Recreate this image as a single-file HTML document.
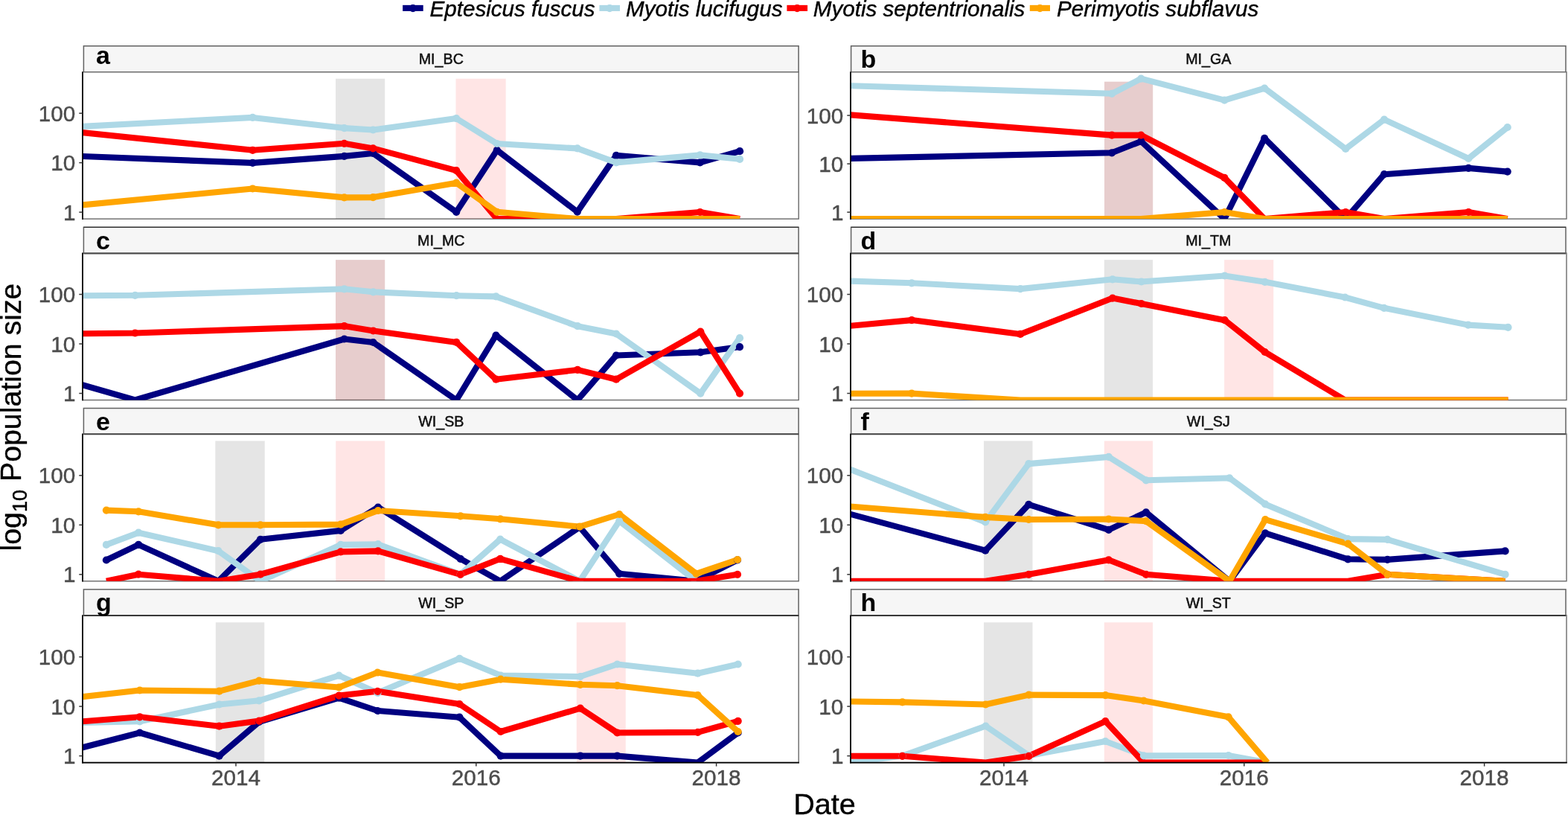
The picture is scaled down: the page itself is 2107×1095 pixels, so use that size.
<!DOCTYPE html>
<html><head><meta charset="utf-8"><title>Bat population</title><style>html,body{margin:0;padding:0;background:#fff;}svg{display:block;}</style></head><body>
<svg width="2107" height="1095" viewBox="0 0 2107 1095" font-family="'Liberation Sans', Arial, Helvetica, sans-serif">
<rect x="0" y="0" width="2107" height="1095" fill="#FFFFFF"/>
<line x1="541.1" y1="10.9" x2="568.7" y2="10.9" stroke="#000080" stroke-width="8.1"/>
<circle cx="554.9" cy="11.15" r="5.1" fill="#000080"/>
<text x="577.5" y="21.6" font-size="29.6" font-style="italic" fill="#000" stroke="#000" stroke-width="0.4">Eptesicus fuscus</text>
<line x1="805.4" y1="10.9" x2="833.0" y2="10.9" stroke="#ADD8E6" stroke-width="8.1"/>
<circle cx="819.2" cy="11.15" r="5.1" fill="#ADD8E6"/>
<text x="841.0" y="21.6" font-size="29.6" font-style="italic" fill="#000" stroke="#000" stroke-width="0.4">Myotis lucifugus</text>
<line x1="1057.4" y1="10.9" x2="1085.1" y2="10.9" stroke="#FF0000" stroke-width="8.1"/>
<circle cx="1071.2" cy="11.15" r="5.1" fill="#FF0000"/>
<text x="1092.8" y="21.6" font-size="29.6" font-style="italic" fill="#000" stroke="#000" stroke-width="0.4">Myotis septentrionalis</text>
<line x1="1383.8" y1="10.9" x2="1411.0" y2="10.9" stroke="#FFA500" stroke-width="8.1"/>
<circle cx="1397.4" cy="11.15" r="5.1" fill="#FFA500"/>
<text x="1420.0" y="21.6" font-size="29.6" font-style="italic" fill="#000" stroke="#000" stroke-width="0.4">Perimyotis subflavus</text>
<rect x="112.4" y="61.8" width="960.7" height="35.0" fill="#F6F6F6" stroke="#626262" stroke-width="1.5"/>
<rect x="111.0" y="96.8" width="962.2" height="197.3" fill="#FFFFFF" stroke="#6A6A6A" stroke-width="1.4"/>
<clipPath id="cp1"><rect x="111.0" y="96.8" width="962.2" height="197.3"/></clipPath>
<g clip-path="url(#cp1)">
<rect x="451.0" y="105.7" width="66.2" height="190.4" fill="rgba(0,0,0,0.1)"/>
<rect x="612.5" y="105.7" width="67.2" height="190.4" fill="rgba(255,0,0,0.1)"/>
<polyline points="81.0,208.9 339.5,218.9 462.6,209.9 501.3,206.0 613.2,284.8 667.8,201.8 775.8,284.6 828.0,208.9 940.7,218.4 994.1,203.2" fill="none" stroke="#000080" stroke-width="8.1" stroke-linejoin="round" stroke-linecap="butt"/>
<polyline points="81.0,171.4 339.5,157.9 462.6,172.1 501.3,174.5 613.2,159.1 667.8,193.0 775.8,199.4 828.0,218.4 940.7,208.4 994.1,213.8" fill="none" stroke="#ADD8E6" stroke-width="8.1" stroke-linejoin="round" stroke-linecap="butt"/>
<polyline points="81.0,175.0 339.5,201.8 462.6,192.8 501.3,199.4 613.2,229.1 667.8,294.1 775.8,294.1 828.0,294.1 940.7,285.0 994.1,294.1" fill="none" stroke="#FF0000" stroke-width="8.1" stroke-linejoin="round" stroke-linecap="butt"/>
<polyline points="81.0,278.3 339.5,253.5 462.6,265.4 501.3,265.1 613.2,245.7 667.8,284.8 775.8,294.1 828.0,294.1 940.7,294.1 994.1,294.1" fill="none" stroke="#FFA500" stroke-width="8.1" stroke-linejoin="round" stroke-linecap="butt"/>
<circle cx="339.5" cy="218.9" r="5.1" fill="#000080"/>
<circle cx="462.6" cy="209.9" r="5.1" fill="#000080"/>
<circle cx="501.3" cy="206.0" r="5.1" fill="#000080"/>
<circle cx="613.2" cy="284.8" r="5.1" fill="#000080"/>
<circle cx="667.8" cy="201.8" r="5.1" fill="#000080"/>
<circle cx="775.8" cy="284.6" r="5.1" fill="#000080"/>
<circle cx="828.0" cy="208.9" r="5.1" fill="#000080"/>
<circle cx="940.7" cy="218.4" r="5.1" fill="#000080"/>
<circle cx="994.1" cy="203.2" r="5.1" fill="#000080"/>
<circle cx="339.5" cy="157.9" r="5.1" fill="#ADD8E6"/>
<circle cx="462.6" cy="172.1" r="5.1" fill="#ADD8E6"/>
<circle cx="501.3" cy="174.5" r="5.1" fill="#ADD8E6"/>
<circle cx="613.2" cy="159.1" r="5.1" fill="#ADD8E6"/>
<circle cx="667.8" cy="193.0" r="5.1" fill="#ADD8E6"/>
<circle cx="775.8" cy="199.4" r="5.1" fill="#ADD8E6"/>
<circle cx="828.0" cy="218.4" r="5.1" fill="#ADD8E6"/>
<circle cx="940.7" cy="208.4" r="5.1" fill="#ADD8E6"/>
<circle cx="994.1" cy="213.8" r="5.1" fill="#ADD8E6"/>
<circle cx="339.5" cy="201.8" r="5.1" fill="#FF0000"/>
<circle cx="462.6" cy="192.8" r="5.1" fill="#FF0000"/>
<circle cx="501.3" cy="199.4" r="5.1" fill="#FF0000"/>
<circle cx="613.2" cy="229.1" r="5.1" fill="#FF0000"/>
<circle cx="940.7" cy="285.0" r="5.1" fill="#FF0000"/>
<circle cx="339.5" cy="253.5" r="5.1" fill="#FFA500"/>
<circle cx="462.6" cy="265.4" r="5.1" fill="#FFA500"/>
<circle cx="501.3" cy="265.1" r="5.1" fill="#FFA500"/>
<circle cx="613.2" cy="245.7" r="5.1" fill="#FFA500"/>
<circle cx="667.8" cy="284.8" r="5.1" fill="#FFA500"/>
</g>
<line x1="111.0" y1="96.5" x2="111.0" y2="294.90000000000003" stroke="#000" stroke-width="1.7"/>
<line x1="106.3" y1="285.1" x2="111.0" y2="285.1" stroke="#333333" stroke-width="1.5"/>
<text x="101.4" y="295.7" font-size="29.7" fill="#4D4D4D" stroke="#4D4D4D" stroke-width="0.45" text-anchor="end">1</text>
<line x1="106.3" y1="218.6" x2="111.0" y2="218.6" stroke="#333333" stroke-width="1.5"/>
<text x="101.4" y="229.2" font-size="29.7" fill="#4D4D4D" stroke="#4D4D4D" stroke-width="0.45" text-anchor="end">10</text>
<line x1="106.3" y1="152.2" x2="111.0" y2="152.2" stroke="#333333" stroke-width="1.5"/>
<text x="101.4" y="162.8" font-size="29.7" fill="#4D4D4D" stroke="#4D4D4D" stroke-width="0.45" text-anchor="end">100</text>
<text x="592.8" y="86.4" font-size="19.7" fill="#111111" stroke="#111111" stroke-width="0.5" text-anchor="middle">MI_BC</text>
<text x="129.0" y="86.4" font-size="34" font-weight="bold" fill="#000">a</text>
<rect x="1143.6" y="61.8" width="960.4" height="35.0" fill="#F6F6F6" stroke="#626262" stroke-width="1.5"/>
<rect x="1143.0" y="96.8" width="962.0" height="197.3" fill="#FFFFFF" stroke="#6A6A6A" stroke-width="1.4"/>
<clipPath id="cp2"><rect x="1143.0" y="96.8" width="962.0" height="197.3"/></clipPath>
<g clip-path="url(#cp2)">
<rect x="1484.0" y="109.7" width="65.2" height="186.4" fill="rgba(0,0,0,0.1)"/>
<rect x="1484.0" y="109.7" width="65.2" height="186.4" fill="rgba(255,0,0,0.1)"/>
<polyline points="1113.0,213.5 1494.1,205.3 1533.3,189.9 1645.4,294.1 1699.2,185.8 1808.2,294.1 1860.0,234.2 1973.3,225.9 2025.7,230.6" fill="none" stroke="#000080" stroke-width="8.1" stroke-linejoin="round" stroke-linecap="butt"/>
<polyline points="1113.0,114.3 1494.1,125.8 1533.3,105.7 1645.4,134.6 1699.2,118.6 1808.2,200.0 1860.0,160.6 1973.3,213.0 2025.7,171.0" fill="none" stroke="#ADD8E6" stroke-width="8.1" stroke-linejoin="round" stroke-linecap="butt"/>
<polyline points="1113.0,152.0 1494.1,181.6 1533.3,181.6 1645.4,238.9 1699.2,294.1 1808.2,285.0 1860.0,294.1 1973.3,285.0 2025.7,294.1" fill="none" stroke="#FF0000" stroke-width="8.1" stroke-linejoin="round" stroke-linecap="butt"/>
<polyline points="1113.0,294.1 1494.1,294.1 1533.3,294.1 1645.4,285.0 1699.2,294.1 1808.2,294.1 1860.0,294.1 1973.3,294.1 2025.7,294.1" fill="none" stroke="#FFA500" stroke-width="8.1" stroke-linejoin="round" stroke-linecap="butt"/>
<circle cx="1494.1" cy="205.3" r="5.1" fill="#000080"/>
<circle cx="1533.3" cy="189.9" r="5.1" fill="#000080"/>
<circle cx="1699.2" cy="185.8" r="5.1" fill="#000080"/>
<circle cx="1860.0" cy="234.2" r="5.1" fill="#000080"/>
<circle cx="1973.3" cy="225.9" r="5.1" fill="#000080"/>
<circle cx="2025.7" cy="230.6" r="5.1" fill="#000080"/>
<circle cx="1494.1" cy="125.8" r="5.1" fill="#ADD8E6"/>
<circle cx="1533.3" cy="105.7" r="5.1" fill="#ADD8E6"/>
<circle cx="1645.4" cy="134.6" r="5.1" fill="#ADD8E6"/>
<circle cx="1699.2" cy="118.6" r="5.1" fill="#ADD8E6"/>
<circle cx="1808.2" cy="200.0" r="5.1" fill="#ADD8E6"/>
<circle cx="1860.0" cy="160.6" r="5.1" fill="#ADD8E6"/>
<circle cx="1973.3" cy="213.0" r="5.1" fill="#ADD8E6"/>
<circle cx="2025.7" cy="171.0" r="5.1" fill="#ADD8E6"/>
<circle cx="1494.1" cy="181.6" r="5.1" fill="#FF0000"/>
<circle cx="1533.3" cy="181.6" r="5.1" fill="#FF0000"/>
<circle cx="1645.4" cy="238.9" r="5.1" fill="#FF0000"/>
<circle cx="1808.2" cy="285.0" r="5.1" fill="#FF0000"/>
<circle cx="1973.3" cy="285.0" r="5.1" fill="#FF0000"/>
<circle cx="1645.4" cy="285.0" r="5.1" fill="#FFA500"/>
</g>
<line x1="1143.0" y1="96.5" x2="1143.0" y2="294.90000000000003" stroke="#000" stroke-width="1.7"/>
<line x1="1138.3" y1="285.1" x2="1143.0" y2="285.1" stroke="#333333" stroke-width="1.5"/>
<text x="1133.4" y="295.7" font-size="29.7" fill="#4D4D4D" stroke="#4D4D4D" stroke-width="0.45" text-anchor="end">1</text>
<line x1="1138.3" y1="220.1" x2="1143.0" y2="220.1" stroke="#333333" stroke-width="1.5"/>
<text x="1133.4" y="230.7" font-size="29.7" fill="#4D4D4D" stroke="#4D4D4D" stroke-width="0.45" text-anchor="end">10</text>
<line x1="1138.3" y1="155.1" x2="1143.0" y2="155.1" stroke="#333333" stroke-width="1.5"/>
<text x="1133.4" y="165.7" font-size="29.7" fill="#4D4D4D" stroke="#4D4D4D" stroke-width="0.45" text-anchor="end">100</text>
<text x="1623.8" y="86.4" font-size="19.7" fill="#111111" stroke="#111111" stroke-width="0.5" text-anchor="middle">MI_GA</text>
<text x="1156.4" y="91.0" font-size="34" font-weight="bold" fill="#000">b</text>
<rect x="112.4" y="305.3" width="960.7" height="34.8" fill="#F6F6F6" stroke="#626262" stroke-width="1.5"/>
<rect x="111.0" y="340.1" width="962.2" height="197.4" fill="#FFFFFF" stroke="#6A6A6A" stroke-width="1.4"/>
<clipPath id="cp3"><rect x="111.0" y="340.1" width="962.2" height="197.4"/></clipPath>
<g clip-path="url(#cp3)">
<rect x="451.0" y="349.1" width="66.2" height="190.4" fill="rgba(0,0,0,0.1)"/>
<rect x="451.0" y="349.1" width="66.2" height="190.4" fill="rgba(255,0,0,0.1)"/>
<polyline points="81.0,508.6 181.5,537.5 462.6,455.5 501.5,460.0 613.3,537.5 666.5,450.5 776.1,537.5 828.0,477.5 941.3,473.3 994.0,466.1" fill="none" stroke="#000080" stroke-width="8.1" stroke-linejoin="round" stroke-linecap="butt"/>
<polyline points="81.0,397.5 181.5,396.8 462.6,388.3 501.5,392.3 613.3,397.2 666.5,398.4 776.1,438.2 828.0,448.5 941.3,528.6 994.0,454.2" fill="none" stroke="#ADD8E6" stroke-width="8.1" stroke-linejoin="round" stroke-linecap="butt"/>
<polyline points="81.0,448.6 181.5,447.5 462.6,438.1 501.5,444.5 613.3,459.9 666.5,509.7 776.1,496.9 828.0,509.7 941.3,445.6 994.0,528.6" fill="none" stroke="#FF0000" stroke-width="8.1" stroke-linejoin="round" stroke-linecap="butt"/>
<circle cx="462.6" cy="455.5" r="5.1" fill="#000080"/>
<circle cx="501.5" cy="460.0" r="5.1" fill="#000080"/>
<circle cx="666.5" cy="450.5" r="5.1" fill="#000080"/>
<circle cx="828.0" cy="477.5" r="5.1" fill="#000080"/>
<circle cx="941.3" cy="473.3" r="5.1" fill="#000080"/>
<circle cx="994.0" cy="466.1" r="5.1" fill="#000080"/>
<circle cx="181.5" cy="396.8" r="5.1" fill="#ADD8E6"/>
<circle cx="462.6" cy="388.3" r="5.1" fill="#ADD8E6"/>
<circle cx="501.5" cy="392.3" r="5.1" fill="#ADD8E6"/>
<circle cx="613.3" cy="397.2" r="5.1" fill="#ADD8E6"/>
<circle cx="666.5" cy="398.4" r="5.1" fill="#ADD8E6"/>
<circle cx="776.1" cy="438.2" r="5.1" fill="#ADD8E6"/>
<circle cx="828.0" cy="448.5" r="5.1" fill="#ADD8E6"/>
<circle cx="941.3" cy="528.6" r="5.1" fill="#ADD8E6"/>
<circle cx="994.0" cy="454.2" r="5.1" fill="#ADD8E6"/>
<circle cx="181.5" cy="447.5" r="5.1" fill="#FF0000"/>
<circle cx="462.6" cy="438.1" r="5.1" fill="#FF0000"/>
<circle cx="501.5" cy="444.5" r="5.1" fill="#FF0000"/>
<circle cx="613.3" cy="459.9" r="5.1" fill="#FF0000"/>
<circle cx="666.5" cy="509.7" r="5.1" fill="#FF0000"/>
<circle cx="776.1" cy="496.9" r="5.1" fill="#FF0000"/>
<circle cx="828.0" cy="509.7" r="5.1" fill="#FF0000"/>
<circle cx="941.3" cy="445.6" r="5.1" fill="#FF0000"/>
<circle cx="994.0" cy="528.6" r="5.1" fill="#FF0000"/>
</g>
<line x1="112.4" y1="305.4" x2="1073.1" y2="305.4" stroke="#303030" stroke-width="1.1"/>
<line x1="112.4" y1="340.7" x2="1073.1" y2="340.7" stroke="#4A4A4A" stroke-width="1.5"/>
<line x1="111.0" y1="339.8" x2="111.0" y2="538.3" stroke="#000" stroke-width="1.7"/>
<line x1="106.3" y1="528.5" x2="111.0" y2="528.5" stroke="#333333" stroke-width="1.5"/>
<text x="101.4" y="539.1" font-size="29.7" fill="#4D4D4D" stroke="#4D4D4D" stroke-width="0.45" text-anchor="end">1</text>
<line x1="106.3" y1="462.0" x2="111.0" y2="462.0" stroke="#333333" stroke-width="1.5"/>
<text x="101.4" y="472.6" font-size="29.7" fill="#4D4D4D" stroke="#4D4D4D" stroke-width="0.45" text-anchor="end">10</text>
<line x1="106.3" y1="395.5" x2="111.0" y2="395.5" stroke="#333333" stroke-width="1.5"/>
<text x="101.4" y="406.1" font-size="29.7" fill="#4D4D4D" stroke="#4D4D4D" stroke-width="0.45" text-anchor="end">100</text>
<text x="592.8" y="329.9" font-size="19.7" fill="#111111" stroke="#111111" stroke-width="0.5" text-anchor="middle">MI_MC</text>
<text x="129.0" y="334.5" font-size="34" font-weight="bold" fill="#000">c</text>
<rect x="1143.6" y="305.3" width="960.4" height="34.8" fill="#F6F6F6" stroke="#626262" stroke-width="1.5"/>
<rect x="1143.0" y="340.1" width="962.0" height="197.4" fill="#FFFFFF" stroke="#6A6A6A" stroke-width="1.4"/>
<clipPath id="cp4"><rect x="1143.0" y="340.1" width="962.0" height="197.4"/></clipPath>
<g clip-path="url(#cp4)">
<rect x="1483.8" y="349.1" width="65.3" height="190.4" fill="rgba(0,0,0,0.1)"/>
<rect x="1645.1" y="349.1" width="66.2" height="190.4" fill="rgba(255,0,0,0.1)"/>
<polyline points="1113.0,376.7 1225.1,380.3 1371.1,388.1 1495.0,375.3 1533.7,378.5 1645.7,370.5 1699.7,378.8 1807.4,399.5 1859.8,413.8 1972.8,436.6 2026.5,439.8" fill="none" stroke="#ADD8E6" stroke-width="8.1" stroke-linejoin="round" stroke-linecap="butt"/>
<polyline points="1113.0,440.5 1225.1,430.1 1371.1,448.9 1495.0,400.6 1533.7,408.0 1645.7,430.2 1699.7,473.0 1807.4,537.5 1859.8,537.5 1972.8,537.5 2026.5,537.5" fill="none" stroke="#FF0000" stroke-width="8.1" stroke-linejoin="round" stroke-linecap="butt"/>
<polyline points="1113.0,528.9 1225.1,528.6 1371.1,537.5 1495.0,537.5 1533.7,537.5 1645.7,537.5 1699.7,537.5 1807.4,537.5 1859.8,537.5 1972.8,537.5 2026.5,537.5" fill="none" stroke="#FFA500" stroke-width="8.1" stroke-linejoin="round" stroke-linecap="butt"/>
<circle cx="1225.1" cy="380.3" r="5.1" fill="#ADD8E6"/>
<circle cx="1371.1" cy="388.1" r="5.1" fill="#ADD8E6"/>
<circle cx="1495.0" cy="375.3" r="5.1" fill="#ADD8E6"/>
<circle cx="1533.7" cy="378.5" r="5.1" fill="#ADD8E6"/>
<circle cx="1645.7" cy="370.5" r="5.1" fill="#ADD8E6"/>
<circle cx="1699.7" cy="378.8" r="5.1" fill="#ADD8E6"/>
<circle cx="1807.4" cy="399.5" r="5.1" fill="#ADD8E6"/>
<circle cx="1859.8" cy="413.8" r="5.1" fill="#ADD8E6"/>
<circle cx="1972.8" cy="436.6" r="5.1" fill="#ADD8E6"/>
<circle cx="2026.5" cy="439.8" r="5.1" fill="#ADD8E6"/>
<circle cx="1225.1" cy="430.1" r="5.1" fill="#FF0000"/>
<circle cx="1371.1" cy="448.9" r="5.1" fill="#FF0000"/>
<circle cx="1495.0" cy="400.6" r="5.1" fill="#FF0000"/>
<circle cx="1533.7" cy="408.0" r="5.1" fill="#FF0000"/>
<circle cx="1645.7" cy="430.2" r="5.1" fill="#FF0000"/>
<circle cx="1699.7" cy="473.0" r="5.1" fill="#FF0000"/>
<circle cx="1225.1" cy="528.6" r="5.1" fill="#FFA500"/>
</g>
<line x1="1143.6" y1="305.4" x2="2104.0" y2="305.4" stroke="#303030" stroke-width="1.1"/>
<line x1="1143.6" y1="340.7" x2="2104.0" y2="340.7" stroke="#4A4A4A" stroke-width="1.5"/>
<line x1="1143.0" y1="339.8" x2="1143.0" y2="538.3" stroke="#000" stroke-width="1.7"/>
<line x1="1138.3" y1="528.5" x2="1143.0" y2="528.5" stroke="#333333" stroke-width="1.5"/>
<text x="1133.4" y="539.1" font-size="29.7" fill="#4D4D4D" stroke="#4D4D4D" stroke-width="0.45" text-anchor="end">1</text>
<line x1="1138.3" y1="462.0" x2="1143.0" y2="462.0" stroke="#333333" stroke-width="1.5"/>
<text x="1133.4" y="472.6" font-size="29.7" fill="#4D4D4D" stroke="#4D4D4D" stroke-width="0.45" text-anchor="end">10</text>
<line x1="1138.3" y1="395.5" x2="1143.0" y2="395.5" stroke="#333333" stroke-width="1.5"/>
<text x="1133.4" y="406.1" font-size="29.7" fill="#4D4D4D" stroke="#4D4D4D" stroke-width="0.45" text-anchor="end">100</text>
<text x="1623.8" y="329.9" font-size="19.7" fill="#111111" stroke="#111111" stroke-width="0.5" text-anchor="middle">MI_TM</text>
<text x="1156.4" y="334.5" font-size="34" font-weight="bold" fill="#000">d</text>
<rect x="112.4" y="548.5" width="960.7" height="34.5" fill="#F6F6F6" stroke="#626262" stroke-width="1.5"/>
<rect x="111.0" y="583.0" width="962.2" height="197.8" fill="#FFFFFF" stroke="#6A6A6A" stroke-width="1.4"/>
<clipPath id="cp5"><rect x="111.0" y="583.0" width="962.2" height="197.8"/></clipPath>
<g clip-path="url(#cp5)">
<rect x="289.3" y="592.4" width="66.5" height="190.4" fill="rgba(0,0,0,0.1)"/>
<rect x="451.2" y="592.4" width="66.0" height="190.4" fill="rgba(255,0,0,0.1)"/>
<polyline points="142.9,752.5 186.1,731.9 293.4,780.8 349.9,724.8 457.8,712.9 508.0,681.5 618.7,750.8 672.2,780.8 779.0,708.1 832.2,770.8 935.6,780.8 991.0,752.3" fill="none" stroke="#000080" stroke-width="8.1" stroke-linejoin="round" stroke-linecap="butt"/>
<polyline points="142.9,731.9 186.1,715.7 293.4,740.2 349.9,780.8 457.8,731.9 508.0,731.2 618.7,771.8 672.2,724.6 779.0,780.8 832.2,700.0 935.6,780.8" fill="none" stroke="#ADD8E6" stroke-width="8.1" stroke-linejoin="round" stroke-linecap="butt"/>
<polyline points="142.9,780.8 186.1,771.7 293.4,780.8 349.9,771.7 457.8,741.4 508.0,740.4 618.7,771.8 672.2,750.8 779.0,780.8 832.2,780.8 935.6,780.8 991.0,771.8" fill="none" stroke="#FF0000" stroke-width="8.1" stroke-linejoin="round" stroke-linecap="butt"/>
<polyline points="142.9,685.6 186.1,687.3 293.4,705.3 349.9,705.3 457.8,704.6 508.0,686.0 618.7,693.3 672.2,697.3 779.0,707.6 832.2,691.0 935.6,770.8 991.0,752.0" fill="none" stroke="#FFA500" stroke-width="8.1" stroke-linejoin="round" stroke-linecap="butt"/>
<circle cx="142.9" cy="752.5" r="5.1" fill="#000080"/>
<circle cx="186.1" cy="731.9" r="5.1" fill="#000080"/>
<circle cx="349.9" cy="724.8" r="5.1" fill="#000080"/>
<circle cx="457.8" cy="712.9" r="5.1" fill="#000080"/>
<circle cx="508.0" cy="681.5" r="5.1" fill="#000080"/>
<circle cx="618.7" cy="750.8" r="5.1" fill="#000080"/>
<circle cx="779.0" cy="708.1" r="5.1" fill="#000080"/>
<circle cx="832.2" cy="770.8" r="5.1" fill="#000080"/>
<circle cx="991.0" cy="752.3" r="5.1" fill="#000080"/>
<circle cx="142.9" cy="731.9" r="5.1" fill="#ADD8E6"/>
<circle cx="186.1" cy="715.7" r="5.1" fill="#ADD8E6"/>
<circle cx="293.4" cy="740.2" r="5.1" fill="#ADD8E6"/>
<circle cx="457.8" cy="731.9" r="5.1" fill="#ADD8E6"/>
<circle cx="508.0" cy="731.2" r="5.1" fill="#ADD8E6"/>
<circle cx="618.7" cy="771.8" r="5.1" fill="#ADD8E6"/>
<circle cx="672.2" cy="724.6" r="5.1" fill="#ADD8E6"/>
<circle cx="832.2" cy="700.0" r="5.1" fill="#ADD8E6"/>
<circle cx="186.1" cy="771.7" r="5.1" fill="#FF0000"/>
<circle cx="349.9" cy="771.7" r="5.1" fill="#FF0000"/>
<circle cx="457.8" cy="741.4" r="5.1" fill="#FF0000"/>
<circle cx="508.0" cy="740.4" r="5.1" fill="#FF0000"/>
<circle cx="618.7" cy="771.8" r="5.1" fill="#FF0000"/>
<circle cx="672.2" cy="750.8" r="5.1" fill="#FF0000"/>
<circle cx="991.0" cy="771.8" r="5.1" fill="#FF0000"/>
<circle cx="142.9" cy="685.6" r="5.1" fill="#FFA500"/>
<circle cx="186.1" cy="687.3" r="5.1" fill="#FFA500"/>
<circle cx="293.4" cy="705.3" r="5.1" fill="#FFA500"/>
<circle cx="349.9" cy="705.3" r="5.1" fill="#FFA500"/>
<circle cx="457.8" cy="704.6" r="5.1" fill="#FFA500"/>
<circle cx="508.0" cy="686.0" r="5.1" fill="#FFA500"/>
<circle cx="618.7" cy="693.3" r="5.1" fill="#FFA500"/>
<circle cx="672.2" cy="697.3" r="5.1" fill="#FFA500"/>
<circle cx="779.0" cy="707.6" r="5.1" fill="#FFA500"/>
<circle cx="832.2" cy="691.0" r="5.1" fill="#FFA500"/>
<circle cx="935.6" cy="770.8" r="5.1" fill="#FFA500"/>
<circle cx="991.0" cy="752.0" r="5.1" fill="#FFA500"/>
</g>
<line x1="112.4" y1="583.6" x2="1073.1" y2="583.6" stroke="#454545" stroke-width="1.5"/>
<line x1="111.0" y1="582.7" x2="111.0" y2="781.5999999999999" stroke="#000" stroke-width="1.7"/>
<line x1="106.3" y1="771.8" x2="111.0" y2="771.8" stroke="#333333" stroke-width="1.5"/>
<text x="101.4" y="782.4" font-size="29.7" fill="#4D4D4D" stroke="#4D4D4D" stroke-width="0.45" text-anchor="end">1</text>
<line x1="106.3" y1="705.3" x2="111.0" y2="705.3" stroke="#333333" stroke-width="1.5"/>
<text x="101.4" y="715.9" font-size="29.7" fill="#4D4D4D" stroke="#4D4D4D" stroke-width="0.45" text-anchor="end">10</text>
<line x1="106.3" y1="638.8" x2="111.0" y2="638.8" stroke="#333333" stroke-width="1.5"/>
<text x="101.4" y="649.4" font-size="29.7" fill="#4D4D4D" stroke="#4D4D4D" stroke-width="0.45" text-anchor="end">100</text>
<text x="592.8" y="573.1" font-size="19.7" fill="#111111" stroke="#111111" stroke-width="0.5" text-anchor="middle">WI_SB</text>
<text x="129.0" y="577.7" font-size="34" font-weight="bold" fill="#000">e</text>
<rect x="1143.6" y="548.5" width="960.4" height="34.5" fill="#F6F6F6" stroke="#626262" stroke-width="1.5"/>
<rect x="1143.0" y="583.0" width="962.0" height="197.8" fill="#FFFFFF" stroke="#6A6A6A" stroke-width="1.4"/>
<clipPath id="cp6"><rect x="1143.0" y="583.0" width="962.0" height="197.8"/></clipPath>
<g clip-path="url(#cp6)">
<rect x="1322.0" y="592.4" width="65.5" height="190.4" fill="rgba(0,0,0,0.1)"/>
<rect x="1483.8" y="592.4" width="65.3" height="190.4" fill="rgba(255,0,0,0.1)"/>
<polyline points="1113.0,682.8 1324.1,739.7 1382.3,677.9 1489.8,711.8 1540.0,688.3 1652.2,780.8 1700.2,716.3 1811.3,751.3 1864.3,751.9 2022.6,740.4" fill="none" stroke="#000080" stroke-width="8.1" stroke-linejoin="round" stroke-linecap="butt"/>
<polyline points="1113.0,619.2 1324.1,701.4 1382.3,623.1 1489.8,613.9 1540.0,645.3 1652.2,642.3 1700.2,677.4 1811.3,724.1 1864.3,724.9 2022.6,771.8" fill="none" stroke="#ADD8E6" stroke-width="8.1" stroke-linejoin="round" stroke-linecap="butt"/>
<polyline points="1113.0,780.8 1324.1,780.8 1382.3,771.8 1489.8,752.3 1540.0,771.8 1652.2,780.8 1700.2,780.8 1811.3,780.8 1864.3,771.8 2022.6,780.8" fill="none" stroke="#FF0000" stroke-width="8.1" stroke-linejoin="round" stroke-linecap="butt"/>
<polyline points="1113.0,678.1 1324.1,694.9 1382.3,698.0 1489.8,697.5 1540.0,700.1 1652.2,780.8 1700.2,698.1 1811.3,730.6 1864.3,771.8 2022.6,780.8" fill="none" stroke="#FFA500" stroke-width="8.1" stroke-linejoin="round" stroke-linecap="butt"/>
<circle cx="1324.1" cy="739.7" r="5.1" fill="#000080"/>
<circle cx="1382.3" cy="677.9" r="5.1" fill="#000080"/>
<circle cx="1489.8" cy="711.8" r="5.1" fill="#000080"/>
<circle cx="1540.0" cy="688.3" r="5.1" fill="#000080"/>
<circle cx="1700.2" cy="716.3" r="5.1" fill="#000080"/>
<circle cx="1811.3" cy="751.3" r="5.1" fill="#000080"/>
<circle cx="1864.3" cy="751.9" r="5.1" fill="#000080"/>
<circle cx="2022.6" cy="740.4" r="5.1" fill="#000080"/>
<circle cx="1324.1" cy="701.4" r="5.1" fill="#ADD8E6"/>
<circle cx="1382.3" cy="623.1" r="5.1" fill="#ADD8E6"/>
<circle cx="1489.8" cy="613.9" r="5.1" fill="#ADD8E6"/>
<circle cx="1540.0" cy="645.3" r="5.1" fill="#ADD8E6"/>
<circle cx="1652.2" cy="642.3" r="5.1" fill="#ADD8E6"/>
<circle cx="1700.2" cy="677.4" r="5.1" fill="#ADD8E6"/>
<circle cx="1811.3" cy="724.1" r="5.1" fill="#ADD8E6"/>
<circle cx="1864.3" cy="724.9" r="5.1" fill="#ADD8E6"/>
<circle cx="2022.6" cy="771.8" r="5.1" fill="#ADD8E6"/>
<circle cx="1382.3" cy="771.8" r="5.1" fill="#FF0000"/>
<circle cx="1489.8" cy="752.3" r="5.1" fill="#FF0000"/>
<circle cx="1540.0" cy="771.8" r="5.1" fill="#FF0000"/>
<circle cx="1864.3" cy="771.8" r="5.1" fill="#FF0000"/>
<circle cx="1324.1" cy="694.9" r="5.1" fill="#FFA500"/>
<circle cx="1382.3" cy="698.0" r="5.1" fill="#FFA500"/>
<circle cx="1489.8" cy="697.5" r="5.1" fill="#FFA500"/>
<circle cx="1540.0" cy="700.1" r="5.1" fill="#FFA500"/>
<circle cx="1700.2" cy="698.1" r="5.1" fill="#FFA500"/>
<circle cx="1811.3" cy="730.6" r="5.1" fill="#FFA500"/>
<circle cx="1864.3" cy="771.8" r="5.1" fill="#FFA500"/>
</g>
<line x1="1143.6" y1="583.6" x2="2104.0" y2="583.6" stroke="#454545" stroke-width="1.5"/>
<line x1="1143.0" y1="582.7" x2="1143.0" y2="781.5999999999999" stroke="#000" stroke-width="1.7"/>
<line x1="1138.3" y1="771.8" x2="1143.0" y2="771.8" stroke="#333333" stroke-width="1.5"/>
<text x="1133.4" y="782.4" font-size="29.7" fill="#4D4D4D" stroke="#4D4D4D" stroke-width="0.45" text-anchor="end">1</text>
<line x1="1138.3" y1="705.3" x2="1143.0" y2="705.3" stroke="#333333" stroke-width="1.5"/>
<text x="1133.4" y="715.9" font-size="29.7" fill="#4D4D4D" stroke="#4D4D4D" stroke-width="0.45" text-anchor="end">10</text>
<line x1="1138.3" y1="638.8" x2="1143.0" y2="638.8" stroke="#333333" stroke-width="1.5"/>
<text x="1133.4" y="649.4" font-size="29.7" fill="#4D4D4D" stroke="#4D4D4D" stroke-width="0.45" text-anchor="end">100</text>
<text x="1623.8" y="573.1" font-size="19.7" fill="#111111" stroke="#111111" stroke-width="0.5" text-anchor="middle">WI_SJ</text>
<text x="1156.4" y="577.7" font-size="34" font-weight="bold" fill="#000">f</text>
<rect x="112.4" y="791.9" width="960.7" height="34.8" fill="#F6F6F6" stroke="#626262" stroke-width="1.5"/>
<rect x="111.0" y="826.7" width="962.2" height="197.9" fill="#FFFFFF" stroke="#6A6A6A" stroke-width="1.4"/>
<clipPath id="cp7"><rect x="111.0" y="826.7" width="962.2" height="197.9"/></clipPath>
<g clip-path="url(#cp7)">
<rect x="289.8" y="836.2" width="65.5" height="190.4" fill="rgba(0,0,0,0.1)"/>
<rect x="774.7" y="836.2" width="66.1" height="190.4" fill="rgba(255,0,0,0.1)"/>
<polyline points="81.0,1011.9 187.8,984.5 294.6,1015.6 348.2,969.8 455.5,937.7 507.4,955.0 617.5,963.7 672.8,1015.6 779.8,1015.6 829.4,1015.6 937.6,1024.6 991.7,984.5" fill="none" stroke="#000080" stroke-width="8.1" stroke-linejoin="round" stroke-linecap="butt"/>
<polyline points="81.0,971.7 187.8,969.3 294.6,946.5 348.2,941.3 455.5,907.6 507.4,931.0 617.5,884.8 672.8,907.6 779.8,909.0 829.4,892.5 937.6,904.7 991.7,892.5" fill="none" stroke="#ADD8E6" stroke-width="8.1" stroke-linejoin="round" stroke-linecap="butt"/>
<polyline points="81.0,971.6 187.8,963.3 294.6,975.7 348.2,968.6 455.5,934.6 507.4,928.8 617.5,946.0 672.8,983.0 779.8,951.7 829.4,984.5 937.6,983.9 991.7,968.8" fill="none" stroke="#FF0000" stroke-width="8.1" stroke-linejoin="round" stroke-linecap="butt"/>
<polyline points="81.0,939.5 187.8,927.5 294.6,928.7 348.2,914.7 455.5,923.5 507.4,903.5 617.5,923.2 672.8,912.7 779.8,919.8 829.4,921.2 937.6,934.1 991.7,983.0" fill="none" stroke="#FFA500" stroke-width="8.1" stroke-linejoin="round" stroke-linecap="butt"/>
<circle cx="187.8" cy="984.5" r="5.1" fill="#000080"/>
<circle cx="294.6" cy="1015.6" r="5.1" fill="#000080"/>
<circle cx="348.2" cy="969.8" r="5.1" fill="#000080"/>
<circle cx="455.5" cy="937.7" r="5.1" fill="#000080"/>
<circle cx="507.4" cy="955.0" r="5.1" fill="#000080"/>
<circle cx="617.5" cy="963.7" r="5.1" fill="#000080"/>
<circle cx="672.8" cy="1015.6" r="5.1" fill="#000080"/>
<circle cx="779.8" cy="1015.6" r="5.1" fill="#000080"/>
<circle cx="829.4" cy="1015.6" r="5.1" fill="#000080"/>
<circle cx="991.7" cy="984.5" r="5.1" fill="#000080"/>
<circle cx="187.8" cy="969.3" r="5.1" fill="#ADD8E6"/>
<circle cx="294.6" cy="946.5" r="5.1" fill="#ADD8E6"/>
<circle cx="348.2" cy="941.3" r="5.1" fill="#ADD8E6"/>
<circle cx="455.5" cy="907.6" r="5.1" fill="#ADD8E6"/>
<circle cx="507.4" cy="931.0" r="5.1" fill="#ADD8E6"/>
<circle cx="617.5" cy="884.8" r="5.1" fill="#ADD8E6"/>
<circle cx="672.8" cy="907.6" r="5.1" fill="#ADD8E6"/>
<circle cx="779.8" cy="909.0" r="5.1" fill="#ADD8E6"/>
<circle cx="829.4" cy="892.5" r="5.1" fill="#ADD8E6"/>
<circle cx="937.6" cy="904.7" r="5.1" fill="#ADD8E6"/>
<circle cx="991.7" cy="892.5" r="5.1" fill="#ADD8E6"/>
<circle cx="187.8" cy="963.3" r="5.1" fill="#FF0000"/>
<circle cx="294.6" cy="975.7" r="5.1" fill="#FF0000"/>
<circle cx="348.2" cy="968.6" r="5.1" fill="#FF0000"/>
<circle cx="455.5" cy="934.6" r="5.1" fill="#FF0000"/>
<circle cx="507.4" cy="928.8" r="5.1" fill="#FF0000"/>
<circle cx="617.5" cy="946.0" r="5.1" fill="#FF0000"/>
<circle cx="672.8" cy="983.0" r="5.1" fill="#FF0000"/>
<circle cx="779.8" cy="951.7" r="5.1" fill="#FF0000"/>
<circle cx="829.4" cy="984.5" r="5.1" fill="#FF0000"/>
<circle cx="937.6" cy="983.9" r="5.1" fill="#FF0000"/>
<circle cx="991.7" cy="968.8" r="5.1" fill="#FF0000"/>
<circle cx="187.8" cy="927.5" r="5.1" fill="#FFA500"/>
<circle cx="294.6" cy="928.7" r="5.1" fill="#FFA500"/>
<circle cx="348.2" cy="914.7" r="5.1" fill="#FFA500"/>
<circle cx="455.5" cy="923.5" r="5.1" fill="#FFA500"/>
<circle cx="507.4" cy="903.5" r="5.1" fill="#FFA500"/>
<circle cx="617.5" cy="923.2" r="5.1" fill="#FFA500"/>
<circle cx="672.8" cy="912.7" r="5.1" fill="#FFA500"/>
<circle cx="779.8" cy="919.8" r="5.1" fill="#FFA500"/>
<circle cx="829.4" cy="921.2" r="5.1" fill="#FFA500"/>
<circle cx="937.6" cy="934.1" r="5.1" fill="#FFA500"/>
<circle cx="991.7" cy="983.0" r="5.1" fill="#FFA500"/>
</g>
<line x1="112.4" y1="827.1" x2="1073.1" y2="827.1" stroke="#303030" stroke-width="1.6"/>
<line x1="111.0" y1="826.4000000000001" x2="111.0" y2="1025.3999999999999" stroke="#000" stroke-width="1.7"/>
<line x1="110.2" y1="1024.6" x2="1074.0" y2="1024.6" stroke="#000" stroke-width="1.9"/>
<line x1="106.3" y1="1015.6" x2="111.0" y2="1015.6" stroke="#333333" stroke-width="1.5"/>
<text x="101.4" y="1026.2" font-size="29.7" fill="#4D4D4D" stroke="#4D4D4D" stroke-width="0.45" text-anchor="end">1</text>
<line x1="106.3" y1="949.1" x2="111.0" y2="949.1" stroke="#333333" stroke-width="1.5"/>
<text x="101.4" y="959.7" font-size="29.7" fill="#4D4D4D" stroke="#4D4D4D" stroke-width="0.45" text-anchor="end">10</text>
<line x1="106.3" y1="882.6" x2="111.0" y2="882.6" stroke="#333333" stroke-width="1.5"/>
<text x="101.4" y="893.2" font-size="29.7" fill="#4D4D4D" stroke="#4D4D4D" stroke-width="0.45" text-anchor="end">100</text>
<text x="592.8" y="816.5" font-size="19.7" fill="#111111" stroke="#111111" stroke-width="0.5" text-anchor="middle">WI_SP</text>
<text x="129.0" y="821.1" font-size="34" font-weight="bold" fill="#000">g</text>
<line x1="317.0" y1="1024.6" x2="317.0" y2="1029.6" stroke="#333333" stroke-width="1.5"/>
<text x="317.0" y="1055.0" font-size="29.7" fill="#4D4D4D" stroke="#4D4D4D" stroke-width="0.45" text-anchor="middle">2014</text>
<line x1="639.8" y1="1024.6" x2="639.8" y2="1029.6" stroke="#333333" stroke-width="1.5"/>
<text x="639.8" y="1055.0" font-size="29.7" fill="#4D4D4D" stroke="#4D4D4D" stroke-width="0.45" text-anchor="middle">2016</text>
<line x1="962.6" y1="1024.6" x2="962.6" y2="1029.6" stroke="#333333" stroke-width="1.5"/>
<text x="962.6" y="1055.0" font-size="29.7" fill="#4D4D4D" stroke="#4D4D4D" stroke-width="0.45" text-anchor="middle">2018</text>
<rect x="1143.6" y="791.9" width="960.4" height="34.8" fill="#F6F6F6" stroke="#626262" stroke-width="1.5"/>
<rect x="1143.0" y="826.7" width="962.0" height="197.9" fill="#FFFFFF" stroke="#6A6A6A" stroke-width="1.4"/>
<clipPath id="cp8"><rect x="1143.0" y="826.7" width="962.0" height="197.9"/></clipPath>
<g clip-path="url(#cp8)">
<rect x="1322.0" y="836.2" width="65.5" height="190.4" fill="rgba(0,0,0,0.1)"/>
<rect x="1483.8" y="836.2" width="65.2" height="190.4" fill="rgba(255,0,0,0.1)"/>
<polyline points="1113.0,1028.5 1212.6,1015.6 1324.5,975.5 1382.5,1015.2 1485.4,996.0 1536.9,1015.4 1650.7,1015.0 1703.1,1024.6" fill="none" stroke="#ADD8E6" stroke-width="8.1" stroke-linejoin="round" stroke-linecap="butt"/>
<polyline points="1113.0,1015.8 1212.6,1015.8 1324.5,1024.6 1382.5,1015.8 1485.4,969.1 1536.9,1024.6 1650.7,1024.6 1703.1,1024.6" fill="none" stroke="#FF0000" stroke-width="8.1" stroke-linejoin="round" stroke-linecap="butt"/>
<polyline points="1113.0,942.1 1212.6,943.4 1324.5,946.5 1382.5,933.6 1485.4,934.1 1536.9,941.5 1650.7,963.3 1703.1,1024.6" fill="none" stroke="#FFA500" stroke-width="8.1" stroke-linejoin="round" stroke-linecap="butt"/>
<circle cx="1212.6" cy="1015.6" r="5.1" fill="#ADD8E6"/>
<circle cx="1324.5" cy="975.5" r="5.1" fill="#ADD8E6"/>
<circle cx="1382.5" cy="1015.2" r="5.1" fill="#ADD8E6"/>
<circle cx="1485.4" cy="996.0" r="5.1" fill="#ADD8E6"/>
<circle cx="1536.9" cy="1015.4" r="5.1" fill="#ADD8E6"/>
<circle cx="1650.7" cy="1015.0" r="5.1" fill="#ADD8E6"/>
<circle cx="1212.6" cy="1015.8" r="5.1" fill="#FF0000"/>
<circle cx="1382.5" cy="1015.8" r="5.1" fill="#FF0000"/>
<circle cx="1485.4" cy="969.1" r="5.1" fill="#FF0000"/>
<circle cx="1212.6" cy="943.4" r="5.1" fill="#FFA500"/>
<circle cx="1324.5" cy="946.5" r="5.1" fill="#FFA500"/>
<circle cx="1382.5" cy="933.6" r="5.1" fill="#FFA500"/>
<circle cx="1485.4" cy="934.1" r="5.1" fill="#FFA500"/>
<circle cx="1536.9" cy="941.5" r="5.1" fill="#FFA500"/>
<circle cx="1650.7" cy="963.3" r="5.1" fill="#FFA500"/>
</g>
<line x1="1143.6" y1="827.1" x2="2104.0" y2="827.1" stroke="#303030" stroke-width="1.6"/>
<line x1="1143.0" y1="826.4000000000001" x2="1143.0" y2="1025.3999999999999" stroke="#000" stroke-width="1.7"/>
<line x1="1142.2" y1="1024.6" x2="2105.8" y2="1024.6" stroke="#000" stroke-width="1.9"/>
<line x1="1138.3" y1="1015.6" x2="1143.0" y2="1015.6" stroke="#333333" stroke-width="1.5"/>
<text x="1133.4" y="1026.2" font-size="29.7" fill="#4D4D4D" stroke="#4D4D4D" stroke-width="0.45" text-anchor="end">1</text>
<line x1="1138.3" y1="949.1" x2="1143.0" y2="949.1" stroke="#333333" stroke-width="1.5"/>
<text x="1133.4" y="959.7" font-size="29.7" fill="#4D4D4D" stroke="#4D4D4D" stroke-width="0.45" text-anchor="end">10</text>
<line x1="1138.3" y1="882.6" x2="1143.0" y2="882.6" stroke="#333333" stroke-width="1.5"/>
<text x="1133.4" y="893.2" font-size="29.7" fill="#4D4D4D" stroke="#4D4D4D" stroke-width="0.45" text-anchor="end">100</text>
<text x="1623.8" y="816.5" font-size="19.7" fill="#111111" stroke="#111111" stroke-width="0.5" text-anchor="middle">WI_ST</text>
<text x="1156.4" y="821.1" font-size="34" font-weight="bold" fill="#000">h</text>
<line x1="1349.0" y1="1024.6" x2="1349.0" y2="1029.6" stroke="#333333" stroke-width="1.5"/>
<text x="1349.0" y="1055.0" font-size="29.7" fill="#4D4D4D" stroke="#4D4D4D" stroke-width="0.45" text-anchor="middle">2014</text>
<line x1="1671.8" y1="1024.6" x2="1671.8" y2="1029.6" stroke="#333333" stroke-width="1.5"/>
<text x="1671.8" y="1055.0" font-size="29.7" fill="#4D4D4D" stroke="#4D4D4D" stroke-width="0.45" text-anchor="middle">2016</text>
<line x1="1994.6" y1="1024.6" x2="1994.6" y2="1029.6" stroke="#333333" stroke-width="1.5"/>
<text x="1994.6" y="1055.0" font-size="29.7" fill="#4D4D4D" stroke="#4D4D4D" stroke-width="0.45" text-anchor="middle">2018</text>
<text x="1108" y="1093.6" font-size="39.6" fill="#000" stroke="#000" stroke-width="0.4" text-anchor="middle">Date</text>
<text transform="translate(28,560.5) rotate(-90)" font-size="39.3" fill="#000" stroke="#000" stroke-width="0.4" text-anchor="middle">log<tspan font-size="27" dy="8">10</tspan><tspan dy="-8"> Population size</tspan></text>
</svg>
</body></html>
